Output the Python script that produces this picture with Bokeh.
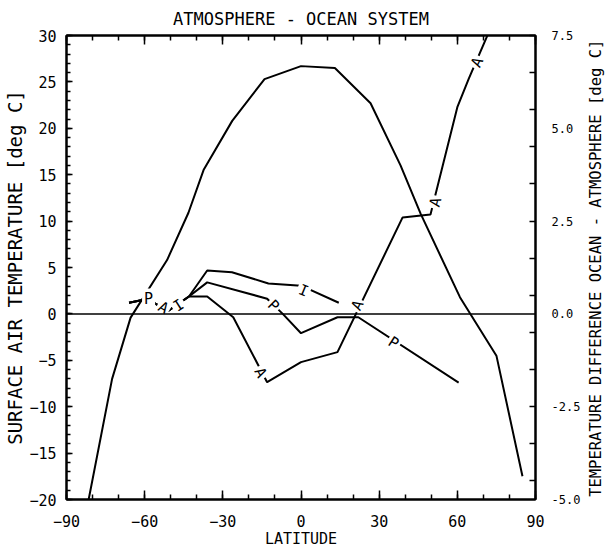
import math
from bokeh.plotting import figure
from bokeh.layouts import row
from bokeh.models import (Range1d, LinearAxis, FixedTicker, PrintfTickFormatter,
                          CustomJSTickFormatter, Span, ColumnDataSource)
from bokeh.embed import file_html
from bokeh.resources import INLINE
from bokeh.core.properties import value

# ---------------- data ----------------
# surface air temperature (left axis, deg C)
air_lat = [-81.5, -72.5, -65.4, -51.4, -43.2, -37.4, -26.4, -14.0, 0.0, 13.0, 26.7, 38.2, 45.9, 61.0, 75.0, 85.0]
air_t = [-20.0, -7.0, -0.4, 5.8, 10.9, 15.5, 20.8, 25.3, 26.7, 26.5, 22.7, 16.0, 10.8, 1.8, -4.5, -17.5]

# ocean - atmosphere temperature difference (right axis, deg C)
atl_lat = [-66, -59, -51, -43, -36, -26, -13, 0, 14, 39, 49.7, 60, 64.4, 74]
atl_d = [0.30, 0.40, 0.08, 0.47, 0.47, -0.09, -1.84, -1.30, -1.03, 2.60, 2.68, 5.57, 6.34, 7.90]

pac_lat = [-66, -59, -51, -43, -36, -13, -7, 0, 14, 22, 60.5]
pac_d = [0.30, 0.40, 0.08, 0.47, 0.85, 0.41, 0.0, -0.52, -0.09, -0.09, -1.85]

ind_lat = [-66, -59, -51, -43, -36, -26.5, -12.5, 0, 14.5]
ind_d = [0.30, 0.40, 0.08, 0.47, 1.17, 1.12, 0.82, 0.76, 0.30]

# inline curve labels
lab_text = ["P", "A", "I", "A", "P", "I", "A", "P", "A", "A"]
lab_lat = [-58.5, -52.8, -47.0, -15.5, -10.6, 1.0, 21.7, 35.5, 51.6, 67.6]
lab_d = [0.39, 0.17, 0.23, -1.58, 0.22, 0.63, 0.23, -0.78, 3.01, 6.78]
lab_ang = [0, -30, 33, -62, -45, -22, 64, -33, 76, 65]

x_ticks = [-90, -60, -30, 0, 30, 60, 90]
x_minor = list(range(-90, 91, 10))
yl_ticks = [-20, -15, -10, -5, 0, 5, 10, 15, 20, 25, 30]
yl_minor = list(range(-20, 31, 1))
yr_ticks = [-5.0, -2.5, 0.0, 2.5, 5.0, 7.5]
yr_minor = [-4.5, -3.5, -2.5, -1.5, -0.5, 0.5, 1.5, 2.5, 3.5, 4.5, 5.5, 6.5, 7.5]

right_title = "TEMPERATURE DIFFERENCE OCEAN - ATMOSPHERE [deg C]"

FONT = "DejaVu Sans Mono"

p = figure(frame_width=469, frame_height=464, output_backend="svg",
           toolbar_location=None, x_range=Range1d(-90, 90), y_range=Range1d(-20, 30),
           min_border_left=66, min_border_right=48, min_border_top=35, min_border_bottom=48,
           title="ATMOSPHERE - OCEAN SYSTEM")
p.extra_y_ranges = {"diff": Range1d(-5, 7.5)}
p.background_fill_color = "white"
p.border_fill_color = "white"
p.outline_line_color = "black"
p.outline_line_width = 2
p.xgrid.visible = False
p.ygrid.visible = False

p.title.align = "center"
p.title.text_font = FONT
p.title.text_font_size = "17px"
p.title.text_font_style = "normal"
p.title.text_color = "black"
p.title.standoff = 13

def style_axis(ax, size="15px"):
    ax.axis_line_color = "black"
    ax.axis_line_width = 2
    ax.major_tick_line_color = "black"
    ax.minor_tick_line_color = "black"
    ax.major_tick_line_width = 1.5
    ax.minor_tick_line_width = 1.5
    ax.major_tick_out = 0
    ax.minor_tick_out = 0
    ax.major_label_text_font = FONT
    ax.major_label_text_font_size = size
    ax.major_label_text_color = "black"
    ax.axis_label_text_font = FONT
    ax.axis_label_text_font_style = "normal"
    ax.axis_label_text_color = "black"

# bottom
xa = p.xaxis[0]
xa.ticker = FixedTicker(ticks=x_ticks, minor_ticks=x_minor)
style_axis(xa)
xa.major_tick_in = 9
xa.minor_tick_in = 5
xa.major_label_standoff = 15
xa.axis_label = "LATITUDE"
xa.axis_label_text_font_size = "15px"
xa.axis_label_standoff = 0

# top (ticks only)
ta = LinearAxis(ticker=FixedTicker(ticks=x_ticks, minor_ticks=x_minor),
                formatter=CustomJSTickFormatter(code="return ''"))
style_axis(ta)
ta.major_tick_in = 9
ta.minor_tick_in = 5
ta.major_label_standoff = 0
p.add_layout(ta, "above")

# left
ya = p.yaxis[0]
ya.ticker = FixedTicker(ticks=yl_ticks, minor_ticks=yl_minor)
style_axis(ya)
ya.major_tick_in = 6
ya.minor_tick_in = 4
ya.major_label_standoff = 10
ya.axis_label = "SURFACE AIR TEMPERATURE [deg C]"
ya.axis_label_text_font_size = "19px"
ya.axis_label_standoff = 0

# right (ticks and numbers)
ra = LinearAxis(y_range_name="diff", ticker=FixedTicker(ticks=yr_ticks, minor_ticks=yr_minor),
                formatter=PrintfTickFormatter(format="%.1f"))
style_axis(ra, "12px")
ra.major_tick_in = 0
ra.minor_tick_in = 6
ra.major_label_standoff = 16
p.add_layout(ra, "right")

# zero line
p.add_layout(Span(location=0, dimension="width", line_color="black", line_width=1.5))

# curves
p.line(air_lat, air_t, line_color="black", line_width=2)
for la, d in ((atl_lat, atl_d), (pac_lat, pac_d), (ind_lat, ind_d)):
    p.line(la, d, y_range_name="diff", line_color="black", line_width=2)

src = ColumnDataSource(dict(x=lab_lat, y=lab_d, t=lab_text,
                            a=[math.radians(v) for v in lab_ang]))
p.text(x="x", y="y", text="t", angle="a", source=src, y_range_name="diff",
       text_font=value(FONT), text_font_size="15px", text_color="black",
       text_align="center", text_baseline="middle",
       background_fill_color="white", padding=2)

# narrow strip carrying the right-hand axis title, reading bottom-to-top
p2 = figure(width=24, height=547, output_backend="svg", toolbar_location=None,
            x_range=Range1d(-1, 1), y_range=Range1d(-1, 1), min_border=0)
p2.axis.visible = False
p2.grid.visible = False
p2.outline_line_color = None
p2.background_fill_color = "white"
p2.border_fill_color = "white"
p2.text(x=[0], y=[-0.01], text=[right_title], angle=math.pi / 2,
        text_font=value(FONT), text_font_size="15.5px", text_color="black",
        text_align="center", text_baseline="middle")

layout = row(p, p2, spacing=0)
open("out.html", "w").write(file_html(layout, INLINE))
